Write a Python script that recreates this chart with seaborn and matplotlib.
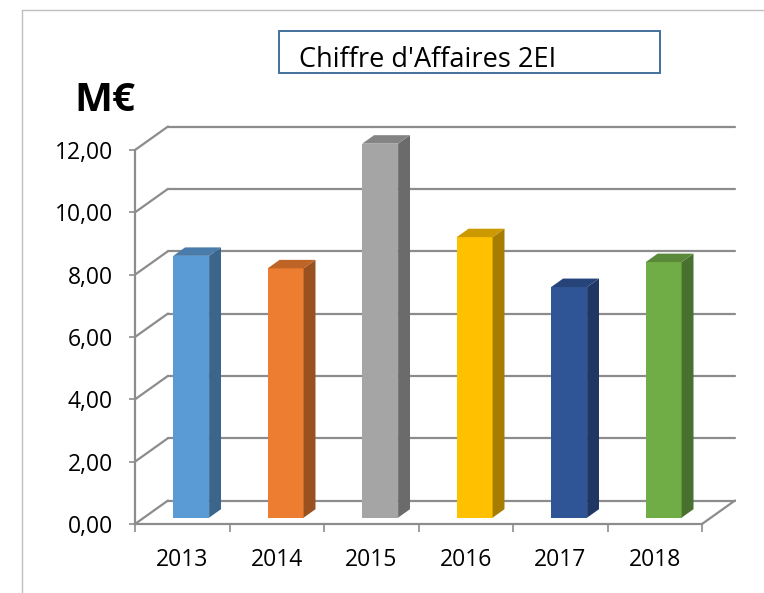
import numpy as np
import matplotlib
matplotlib.use("Agg")
import matplotlib.pyplot as plt
import seaborn as sns
from matplotlib.patches import Polygon, Rectangle
from matplotlib.lines import Line2D
from matplotlib.transforms import Affine2D, IdentityTransform
from matplotlib.colors import to_rgb

# ================================
# Données
# ================================
annees = ['2013', '2014', '2015', '2016', '2017', '2018']
ca = [8.4, 8.0, 12.0, 9.0, 7.4, 8.2]          # chiffre d'affaires en M€
couleurs = ['#5B9BD5', '#ED7D31', '#A5A5A5', '#FFC000', '#2F5597', '#70AD47']
graduations = [0, 2, 4, 6, 8, 10, 12]
etiquettes_y = ['0,00', '2,00', '4,00', '6,00', '8,00', '10,00', '12,00']

# ================================
# Mise en page "3D" façon Excel
# ================================
W, H = 764, 593
DX, DY = 33, 23.5        # profondeur de la boîte en pixels
d0, d1 = 0.27, 0.63      # position des barres dans la profondeur
gris = '#8C8C8C'

sns.set_style('white')
plt.rcParams['font.family'] = ['Open Sans', 'DejaVu Sans']

fig = plt.figure(figsize=(W / 100, H / 100), dpi=100)
ax = fig.add_axes([135 / W, (H - 524) / H, 567 / W, 374 / H])

sns.barplot(x=annees, y=ca, hue=annees, palette=couleurs, legend=False,
            width=0.38, saturation=1, ax=ax, zorder=3)
ax.set_xlim(-0.5, len(annees) - 0.5)
ax.set_ylim(0, 12)


def proj(x, y, d):
    # point (x, y) du repère données, décalé en profondeur d (0 = devant, 1 = fond)
    return ax.transData.transform((x, y)) + d * np.array([DX, DY])


def ligne(p, q, **kw):
    ax.add_artist(Line2D([p[0], q[0]], [p[1], q[1]], transform=IdentityTransform(),
                         clip_on=False, **kw))


# murs : quadrillage au fond + diagonales sur le mur gauche
xg, xd = -0.5, len(annees) - 0.5
for v in graduations:
    ligne(proj(xg, v, 1), proj(xd, v, 1), color=gris, lw=1.6, zorder=1)
    ligne(proj(xg, v, 0), proj(xg, v, 1), color=gris, lw=1.6, zorder=1)
ligne(proj(xd, 0, 0), proj(xd, 0, 1), color=gris, lw=1.6, zorder=1)

# barres : face avant (seaborn) décalée + côté et dessus
for p, c in zip(ax.patches, couleurs):
    p.set_transform(ax.transData + Affine2D().translate(d0 * DX, d0 * DY))
    p.set_clip_on(False)
    p.set_edgecolor('none')
    x_l = p.get_x()
    x_r = x_l + p.get_width()
    h = p.get_height()
    rgb = np.array(to_rgb(c))
    cote = [proj(x_r, 0, d0), proj(x_r, h, d0), proj(x_r, h, d1), proj(x_r, 0, d1)]
    dessus = [proj(x_l, h, d0), proj(x_r, h, d0), proj(x_r, h, d1), proj(x_l, h, d1)]
    ax.add_artist(Polygon(cote, closed=True, transform=IdentityTransform(),
                          facecolor=rgb * 0.65, edgecolor='none', clip_on=False, zorder=3))
    ax.add_artist(Polygon(dessus, closed=True, transform=IdentityTransform(),
                          facecolor=rgb * 0.8, edgecolor='none', clip_on=False, zorder=3))

# axes
sns.despine(ax=ax, top=True, right=True)
for s in ['left', 'bottom']:
    ax.spines[s].set_color(gris)
    ax.spines[s].set_linewidth(1.6)
ax.set_yticks(graduations)
ax.set_yticklabels(etiquettes_y)
ax.set_xticks(range(len(annees)))
ax.set_xticklabels(annees)
ax.set_xticks(np.arange(-0.5, len(annees)), minor=True)
ax.tick_params(axis='y', which='major', direction='out', length=4, width=1.2,
               color=gris, pad=12, labelsize=16.5, labelcolor='black', left=True)
ax.tick_params(axis='x', which='major', length=0, pad=17, labelsize=16.5,
               labelcolor='black')
ax.tick_params(axis='x', which='minor', direction='out', length=6, width=1.2,
               color=gris, bottom=True)
ax.set_xlabel('')
ax.set_ylabel('')

# unité et titre
fig.text(74 / W, 1 - 111 / H, 'M€', fontsize=29, fontweight='bold', va='baseline',
         color='black')
fig.add_artist(Rectangle((279 / W, 1 - 73 / H), (660 - 279) / W, 42 / H,
                         transform=fig.transFigure, fill=False,
                         edgecolor='#41719C', lw=1.4))
fig.text(299 / W, 1 - 67 / H, "Chiffre d'Affaires 2EI", fontsize=19.5, va='baseline',
         color='black')

# cadre de la zone de graphique
fig.add_artist(Line2D([22 / W, 22 / W], [0, 1 - 10 / H], transform=fig.transFigure,
                      color='#BFBFBF', lw=1))
fig.add_artist(Line2D([22 / W, 1], [1 - 10 / H, 1 - 10 / H], transform=fig.transFigure,
                      color='#BFBFBF', lw=1))

fig.savefig('out.png', dpi=100)
